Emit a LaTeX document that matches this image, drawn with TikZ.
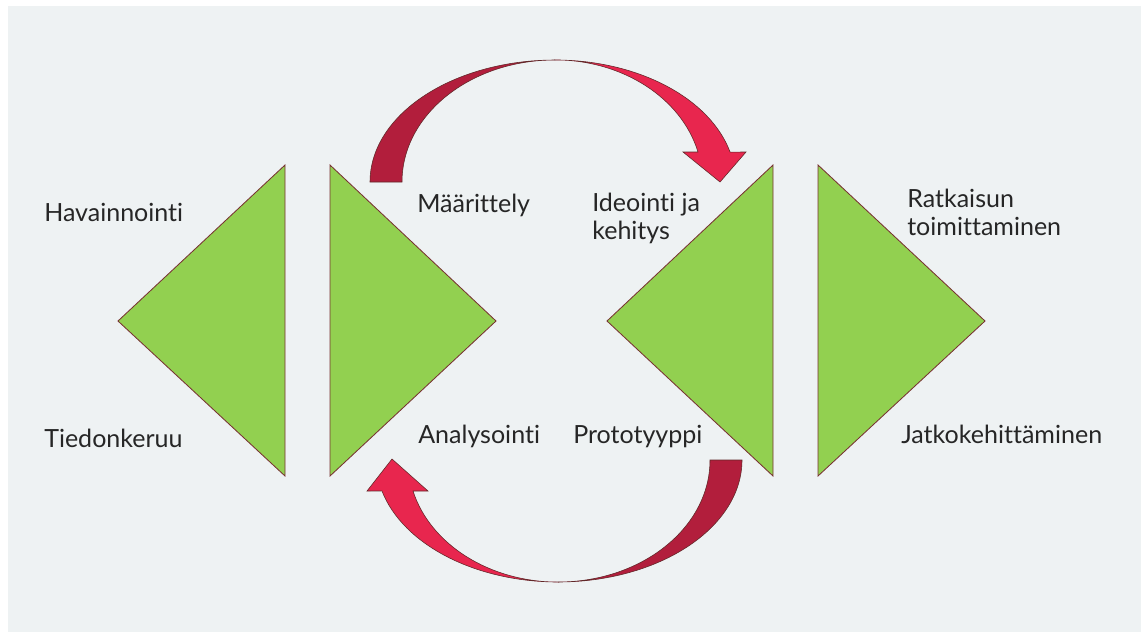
\documentclass[tikz,border=0pt]{standalone}
\usepackage{fontspec}
\setmainfont{Lato}[Ligatures=NoCommon]
\usetikzlibrary{positioning}

\definecolor{panelgrey}{RGB}{238,242,243}
\definecolor{leafgreen}{RGB}{146,208,80}
\definecolor{edgebrown}{RGB}{120,50,50}
\definecolor{arrowred}{RGB}{232,38,78}
\definecolor{arrowdark}{RGB}{178,30,60}
\definecolor{labelgrey}{RGB}{38,38,38}

\begin{document}
\begin{tikzpicture}[
    x=0.025cm, y=0.025cm,
    wedge/.style={
        fill=leafgreen,
        draw=edgebrown,
        line width=0.6pt,
        line join=miter
    },
    looparrow/.style={
        draw=edgebrown!80!black,
        line width=0.4pt,
        line join=miter
    },
    phase/.style={
        anchor=base west,
        align=left,
        inner sep=0pt,
        text=labelgrey,
        font=\fontsize{17.8}{19.5}\selectfont
    }
]

% Background panel
\useasboundingbox (0,0) rectangle (1141,-632);
\fill[white] (0,0) rectangle (1141,-632);
\fill[panelgrey] (8,-6) rectangle (1141,-632);

% ========== TRIANGLES ==========

\draw[wedge] (285,-165) -- (118,-321) -- (285,-476) -- cycle;
\draw[wedge] (330,-165) -- (496,-321) -- (330,-476) -- cycle;
\draw[wedge] (773,-165) -- (607,-321) -- (773,-476) -- cycle;
\draw[wedge] (818,-165) -- (985,-321) -- (818,-476) -- cycle;

% ========== CURVED ARROWS ==========

% Top arrow (left to right)
\filldraw[looparrow, fill=arrowdark] (370,-182)
    arc[start angle=180, end angle=90, x radius=185, y radius=122]
    arc[start angle=90, end angle=180, x radius=153, y radius=122] -- cycle;
\filldraw[looparrow, fill=arrowred] (555,-60)
    arc[start angle=90, end angle=14.2, x radius=180.6, y radius=122]
    -- (746,-152) -- (720,-182) -- (683,-152) -- (698,-152)
    arc[start angle=14.2, end angle=90, x radius=147.6, y radius=122] -- cycle;

% Bottom arrow (right to left)
\filldraw[looparrow, fill=arrowdark] (742,-460)
    arc[start angle=0, end angle=-90, x radius=184, y radius=122]
    arc[start angle=-90, end angle=0, x radius=152, y radius=122] -- cycle;
\filldraw[looparrow, fill=arrowred] (558,-582)
    arc[start angle=270, end angle=194.7, x radius=182, y radius=122]
    -- (367,-491) -- (392,-459) -- (428,-491) -- (413,-491)
    arc[start angle=194.7, end angle=270, x radius=150, y radius=122] -- cycle;

% ========== LABELS ==========

\node[phase] (havainnointi) at (44,-221) {Havainnointi};
\node[phase] (tiedonkeruu) at (44,-447) {Tiedonkeruu};
\node[phase] (maarittely) at (417,-212) {Määrittely};
\node[phase] (analysointi) at (418,-443) {Analysointi};
\node[phase] (ideointi) at (592,-239) {Ideointi ja\\kehitys};
\node[phase] (prototyyppi) at (573,-443) {Prototyyppi};
\node[phase] (ratkaisun) at (907,-235) {Ratkaisun\\toimittaminen};
\node[phase] (jatko) at (901,-443) {Jatkokehittäminen};

\end{tikzpicture}
\end{document}
